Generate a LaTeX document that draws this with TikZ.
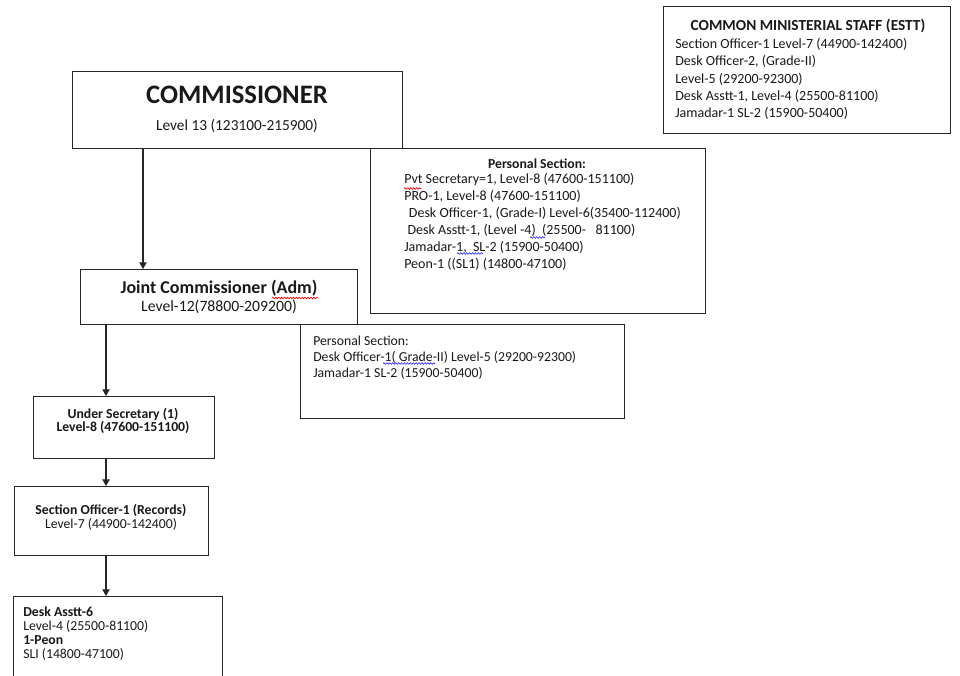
\documentclass[tikz,border=0pt]{standalone}
\usepackage{fontspec}
\setmainfont{Carlito}
\usetikzlibrary{arrows.meta,decorations.pathmorphing}

\begin{document}
\begin{tikzpicture}[x=0.75pt, y=-0.75pt,
    box/.style={draw=black!85, line width=0.8pt, inner sep=0pt, anchor=north west},
    txt/.style={inner sep=0pt, text=black!90},
    tight/.style={execute at begin node={\lineskiplimit=-100pt\relax}},
    arr/.style={-{Triangle[width=5.5pt,length=5pt]}, line width=0.8pt, black!85},
    squig/.style={decorate, decoration={snake, amplitude=0.6pt, segment length=2.2pt}, line width=0.5pt}]

    \clip (0,0) rectangle (960,675);
    \fill[white] (0,0) rectangle (960,675);

    % Boxes
    \node[box, minimum width=215.25pt, minimum height=95.25pt] (estt) at (663,6) {};
    \node[box, minimum width=247.5pt, minimum height=57.75pt] (cm) at (72,71) {};
    \node[box, minimum width=251.25pt, minimum height=123.75pt] (ps1) at (370,148) {};
    \node[box, minimum width=207.75pt, minimum height=41.25pt] (jc) at (80,269) {};
    \node[box, minimum width=243pt, minimum height=70.5pt] (ps2) at (300,324) {};
    \node[box, minimum width=135.75pt, minimum height=46.5pt] (us) at (33,396) {};
    \node[box, minimum width=145.5pt, minimum height=51.75pt] (so) at (14,486) {};
    \node[box, minimum width=156.75pt, minimum height=66pt] (da) at (13,596) {};

    % Texts (multi-line nodes sit on the baseline of their last line)
    \node[txt, anchor=base, font=\fontsize{11.5}{13}\selectfont\bfseries] (esttT) at (808,30) {COMMON MINISTERIAL STAFF (ESTT)};
    \node[txt, anchor=base west, align=left, font=\fontsize{10.5}{13}\selectfont] (esttL) at (675,117.8)
        {Section Officer-1 Level-7 (44900-142400)\\
         Desk Officer-2, (Grade-II)\\
         Level-5 (29200-92300)\\
         Desk Asstt-1, Level-4 (25500-81100)\\
         Jamadar-1 SL-2 (15900-50400)};

    \node[txt, anchor=base, font=\fontsize{20}{22}\selectfont\bfseries] (cmT) at (237,103.5) {COMMISSIONER};
    \node[txt, anchor=base, font=\fontsize{11.5}{13}\selectfont] (cmL) at (237,130) {Level 13 (123100-215900)};

    \node[txt, anchor=base, font=\fontsize{10.3}{12}\selectfont\bfseries] (ps1T) at (537,168.3) {Personal Section:};
    \node[txt, anchor=base west, align=left, font=\fontsize{10.5}{12.65}\selectfont] (ps1L) at (404,268.3)
        {Pvt Secretary=1, Level-8 (47600-151100)\\
         PRO-1, Level-8 (47600-151100)\\
         \hspace{3.5pt}Desk Officer-1, (Grade-I) Level-6(35400-112400)\\
         \hspace{2.5pt}Desk Asstt-1, (Level -4)~ (25500-~~ 81100)\\
         Jamadar-1,~ SL-2 (15900-50400)\\
         Peon-1 ((SL1) (14800-47100)};

    \node[txt, anchor=base, font=\fontsize{13.5}{15}\selectfont\bfseries] (jcT) at (219,293.3) {Joint Commissioner (Adm)};
    \node[txt, anchor=base, font=\fontsize{11.8}{14}\selectfont] (jcL) at (219,311.7) {Level-12(78800-209200)};

    \node[txt, anchor=base west, align=left, font=\fontsize{10.3}{12}\selectfont] (ps2L) at (313,377)
        {Personal Section:\\
         Desk Officer-1( Grade-II) Level-5 (29200-92300)\\
         Jamadar-1 SL-2 (15900-50400)};

    \node[txt, tight, anchor=base, align=center, font=\fontsize{10.3}{9.75}\selectfont\bfseries] (usL) at (123,431)
        {Under Secretary (1)\\ Level-8 (47600-151100)};

    \node[txt, tight, anchor=base, align=center, font=\fontsize{10.3}{10.5}\selectfont] (soL) at (111,528)
        {\textbf{Section Officer-1 (Records)}\\ Level-7 (44900-142400)};

    \node[txt, tight, anchor=base west, align=left, font=\fontsize{10.3}{10.5}\selectfont] (daL) at (23,658.7)
        {\textbf{Desk Asstt-6}\\ Level-4 (25500-81100)\\ \textbf{1-Peon}\\ SLI (14800-47100)};

    % Spelling marks
    \draw[squig, red] (404,188.5) -- (421,188.5);
    \draw[squig, red] (272,298) -- (318,298);
    \draw[squig, blue!80] (530,237.5) -- (545,237.5);
    \draw[squig, blue!80] (457,253.5) -- (483,253.5);
    \draw[squig, blue!80] (383,363.5) -- (435,363.5);

    % Arrows
    \draw[arr] (143,0 |- cm.south) -- (143,0 |- jc.north);
    \draw[arr] (106,0 |- jc.south) -- (106,0 |- us.north);
    \draw[arr] (106,0 |- us.south) -- (106,0 |- so.north);
    \draw[arr] (106,0 |- so.south) -- (106,0 |- da.north);

\end{tikzpicture}
\end{document}
